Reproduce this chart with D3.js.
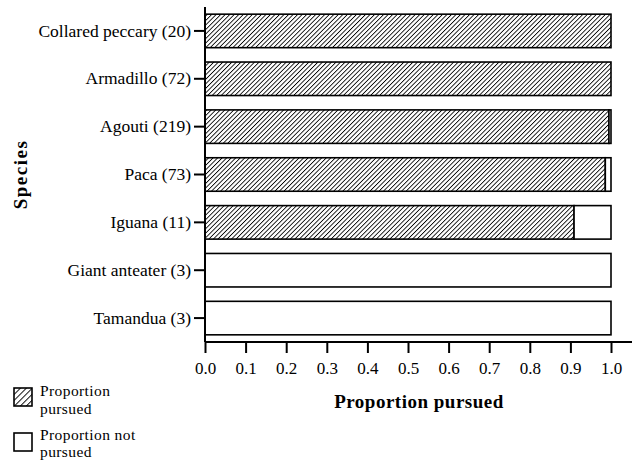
<!DOCTYPE html>
<html>
<head>
<meta charset="utf-8">
<script src="https://cdn.jsdelivr.net/npm/d3@7"></script>
<style>
  body { margin: 0; background: #fff; }
  svg, svg text { font-family: "Liberation Serif", "Times New Roman", serif; }
</style>
</head>
<body>
<div id="wrapper"></div>
<script>
// data
const species = ["Collared peccary (20)", "Armadillo (72)", "Agouti (219)", "Paca (73)", "Iguana (11)", "Giant anteater (3)", "Tamandua (3)"]
const pursued = [1.0, 1.0, 0.995, 0.986, 0.909, 0, 0]
const notPursued = [0, 0, 0.005, 0.014, 0.091, 1.0, 1.0]
const xTicks = [0, 0.1, 0.2, 0.3, 0.4, 0.5, 0.6, 0.7, 0.8, 0.9, 1.0]

const dataset = species.map((s, i) => ({ species: s, pursued: pursued[i], notPursued: notPursued[i] }))

const width = 644
const height = 460
const margin = { top: 7, right: 12, bottom: 118, left: 205 }
const boundedHeight = height - margin.top - margin.bottom

const svg = d3.select("#wrapper")
  .append("svg")
  .attr("width", width)
  .attr("height", height)

// hatch patterns
const defs = svg.append("defs")
function makeHatch(id, size, sw) {
  const pat = defs.append("pattern")
    .attr("id", id)
    .attr("patternUnits", "userSpaceOnUse")
    .attr("width", size)
    .attr("height", size)
    .attr("patternTransform", "rotate(45)")
  pat.append("rect").attr("width", size).attr("height", size).attr("fill", "#fff")
  pat.append("line")
    .attr("x1", 0).attr("y1", 0).attr("x2", 0).attr("y2", size)
    .attr("stroke", "#000").attr("stroke-width", sw)
}
makeHatch("hatch", 3.2, 1.7)
makeHatch("hatchLegend", 4.2, 1.8)

const bounds = svg.append("g")
  .attr("transform", `translate(${margin.left},${margin.top})`)

const xScale = d3.scaleLinear()
  .domain([0, 1])
  .range([0, 406])

const yScale = d3.scaleBand()
  .domain(species)
  .range([0, boundedHeight])
  .paddingInner(0.3)
  .paddingOuter(0.15)

const rows = bounds.selectAll(".row")
  .data(dataset)
  .join("g")
  .attr("class", "row")

rows.append("rect")
  .attr("x", d => xScale(0))
  .attr("y", d => yScale(d.species))
  .attr("width", d => xScale(d.pursued) - xScale(0))
  .attr("height", yScale.bandwidth())
  .attr("fill", "url(#hatch)")
  .attr("stroke", "#000")
  .attr("stroke-width", 1.6)
  .style("display", d => d.pursued > 0 ? null : "none")

rows.append("rect")
  .attr("x", d => xScale(d.pursued))
  .attr("y", d => yScale(d.species))
  .attr("width", d => xScale(d.pursued + d.notPursued) - xScale(d.pursued))
  .attr("height", yScale.bandwidth())
  .attr("fill", "#fff")
  .attr("stroke", "#000")
  .attr("stroke-width", 1.6)
  .style("display", d => d.notPursued > 0 ? null : "none")

// axes
const xAxis = bounds.append("g")
  .attr("transform", `translate(0,${boundedHeight})`)
  .call(d3.axisBottom(xScale).tickValues(xTicks).tickFormat(d3.format(".1f")).tickSize(11).tickPadding(9).tickSizeOuter(0))
xAxis.attr("font-family", null)
xAxis.select(".domain").attr("d", `M0,0H427`).attr("stroke-width", 2)
xAxis.selectAll(".tick line").attr("stroke-width", 2)
xAxis.selectAll("text").style("font-size", "17px").attr("fill", "#000")

const yAxis = bounds.append("g")
  .call(d3.axisLeft(yScale).tickSize(11).tickPadding(3).tickSizeOuter(0))
yAxis.attr("font-family", null)
yAxis.select(".domain").attr("d", `M0,0V${boundedHeight}`).attr("stroke-width", 2)
yAxis.selectAll(".tick line").attr("stroke-width", 2)
yAxis.selectAll("text").style("font-size", "17.5px").attr("fill", "#000")

// axis titles
svg.append("text")
  .attr("x", 419)
  .attr("y", 408)
  .attr("text-anchor", "middle")
  .style("font-size", "19px")
  .style("font-weight", "bold")
  .style("letter-spacing", "0.5px")
  .text("Proportion pursued")

svg.append("text")
  .attr("transform", `translate(27,${margin.top + boundedHeight / 2}) rotate(-90)`)
  .attr("text-anchor", "middle")
  .style("font-size", "19px")
  .style("font-weight", "bold")
  .style("letter-spacing", "1.5px")
  .text("Species")

// legend
const legendItems = [
  { fill: "url(#hatchLegend)", lines: ["Proportion", "pursued"], ty: 8 },
  { fill: "#fff", lines: ["Proportion not", "pursued"], ty: 6.5 }
]
const legend = svg.append("g")
  .selectAll("g")
  .data(legendItems)
  .join("g")
  .attr("transform", (d, i) => `translate(14,${388 + i * 45})`)

legend.append("rect")
  .attr("width", 18)
  .attr("height", 18)
  .attr("fill", d => d.fill)
  .attr("stroke", "#000")
  .attr("stroke-width", 1.6)

legend.append("text")
  .attr("x", 26)
  .attr("y", d => d.ty)
  .style("font-size", "15.5px")
  .style("letter-spacing", "0.4px")
  .selectAll("tspan")
  .data(d => d.lines)
  .join("tspan")
  .attr("x", 26)
  .attr("dy", (d, i) => i === 0 ? 0 : 17.6)
  .text(d => d)
</script>
</body>
</html>
